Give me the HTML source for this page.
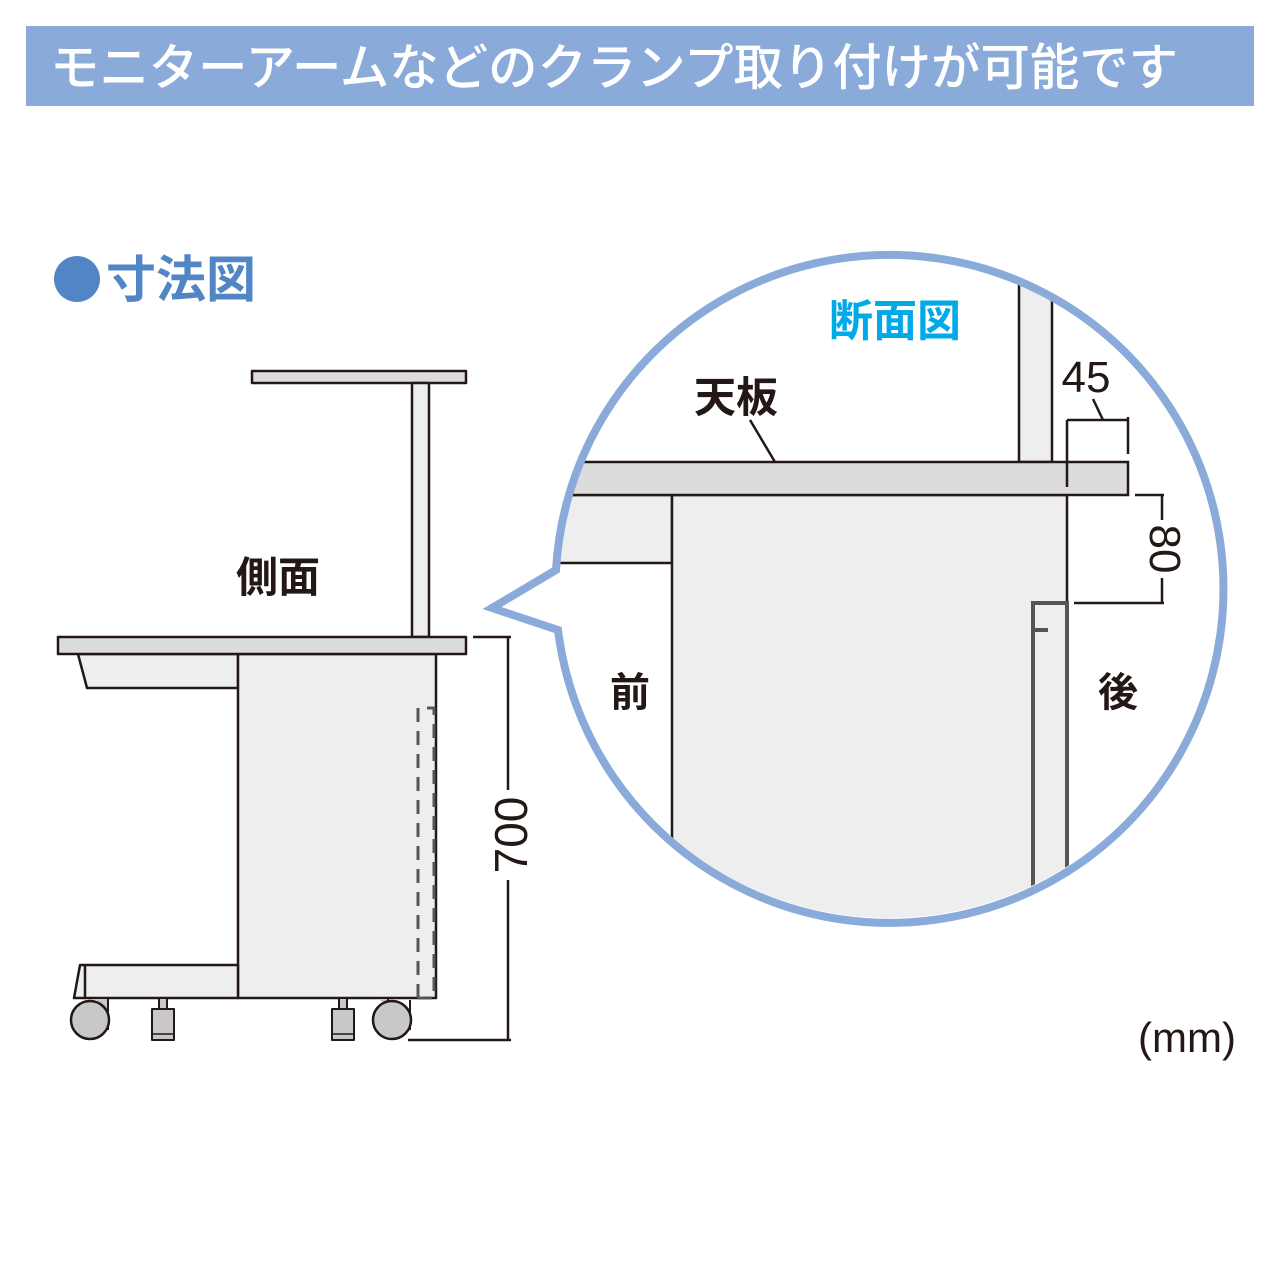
<!DOCTYPE html>
<html><head><meta charset="utf-8"><style>
html,body{margin:0;padding:0;background:#fff;}
svg{display:block;}
text{font-family:"Liberation Sans","Noto Sans CJK JP",sans-serif;}
</style></head><body>
<svg width="1280" height="1280" viewBox="0 0 1280 1280" xmlns="http://www.w3.org/2000/svg">
<rect x="26" y="26" width="1228" height="80" fill="#8aabda"/>
<text x="50" y="85" font-size="50" font-weight="500" fill="#fff" textLength="1128" lengthAdjust="spacingAndGlyphs">モニターアームなどのクランプ取り付けが可能です</text>
<circle cx="77" cy="279" r="23" fill="#5285c6"/>
<text x="106" y="297" font-size="50" font-weight="700" fill="#5285c6">寸法図</text>

<!-- side view -->
<g stroke="#231815" stroke-width="2.5" stroke-linejoin="round">
<rect x="252" y="371" width="214" height="12" fill="#dcdcdc"/>
<rect x="412" y="383" width="17" height="254" fill="#eeeeee"/>
<polygon points="78,654 87,688 238,688 238,654" fill="#eeeeee"/>
<rect x="238" y="654" width="198" height="344" fill="#eeeeee"/>
<polygon points="80,965 238,965 238,998 74,998" fill="#eeeeee"/>
<line x1="85" y1="965" x2="85" y2="998"/>
<rect x="58" y="637" width="408" height="17" fill="#dcdcdc"/>
<!-- casters -->
<path d="M96,998 L108,998 L108,1030" fill="#c8c8c8" stroke-width="2"/>
<circle cx="90" cy="1020" r="19" fill="#c8c8c8"/>
<path d="M376,998 L388,998 L388,1005" fill="#c8c8c8" stroke-width="2"/>
<path d="M410,1000 L410,1030" fill="none" stroke-width="2"/>
<circle cx="392" cy="1020" r="19" fill="#c8c8c8"/>
<rect x="159" y="998" width="8" height="11" fill="#c8c8c8" stroke-width="2"/>
<rect x="152" y="1009" width="22" height="31" fill="#c8c8c8" stroke-width="2"/>
<line x1="153" y1="1034" x2="173" y2="1034" stroke-width="1.5"/>
<rect x="339" y="998" width="8" height="11" fill="#c8c8c8" stroke-width="2"/>
<rect x="332" y="1009" width="22" height="31" fill="#c8c8c8" stroke-width="2"/>
<line x1="333" y1="1034" x2="353" y2="1034" stroke-width="1.5"/>
</g>
<g stroke="#555" stroke-width="3" stroke-dasharray="14,9" fill="none">
<polyline points="418,998 418,708 434,708 434,998 418,998"/>
</g>
<text x="278" y="592" font-size="42" font-weight="700" fill="#231815" text-anchor="middle">側面</text>
<g stroke="#231815" stroke-width="2.5">
<line x1="473" y1="637" x2="511" y2="637"/>
<line x1="508" y1="637" x2="508" y2="790"/>
<line x1="508" y1="880" x2="508" y2="1040"/>
<line x1="408" y1="1040" x2="511" y2="1040"/>
</g>
<text transform="translate(527,835) rotate(-90)" font-size="46" fill="#231815" text-anchor="middle">700</text>

<!-- circle detail -->
<defs><clipPath id="c"><circle cx="889" cy="585" r="333"/></clipPath></defs>
<g clip-path="url(#c)" stroke="#231815" stroke-width="2.5">
<rect x="1019" y="240" width="33" height="222" fill="#eeeeee"/>
<rect x="540" y="495" width="132" height="68" fill="#eeeeee"/>
<rect x="672" y="495" width="395" height="440" fill="#eeeeee"/>
<rect x="540" y="462" width="588" height="33" fill="#dcdcdc"/>
<g stroke="#555" stroke-width="4" fill="none">
<polyline points="1033,940 1033,603 1067,603 1067,940"/>
<line x1="1033" y1="630" x2="1048" y2="630"/>
</g>
</g>
<g stroke="#231815" stroke-width="2.5">
<line x1="1067" y1="420" x2="1067" y2="487"/>
<line x1="1128" y1="417" x2="1128" y2="454"/>
<line x1="1067" y1="420" x2="1128" y2="420"/>
<line x1="1093" y1="399" x2="1103" y2="420"/>
<line x1="1135" y1="495" x2="1164" y2="495"/>
<line x1="1162" y1="495" x2="1162" y2="520"/>
<line x1="1162" y1="578" x2="1162" y2="603"/>
<line x1="1074" y1="603" x2="1164" y2="603"/>
<line x1="750" y1="420" x2="775" y2="462"/>
</g>
<text x="1086" y="392" font-size="44" fill="#231815" text-anchor="middle">45</text>
<text transform="translate(1150,549) rotate(90)" font-size="44" fill="#231815" text-anchor="middle">80</text>
<text x="736" y="412" font-size="42" font-weight="700" fill="#231815" text-anchor="middle">天板</text>
<text x="895" y="336" font-size="44" font-weight="700" fill="#00a9e8" text-anchor="middle">断面図</text>
<text x="630" y="706" font-size="40" font-weight="700" fill="#231815" text-anchor="middle">前</text>
<text x="1118" y="706" font-size="40" font-weight="700" fill="#231815" text-anchor="middle">後</text>
<path d="M556,570 A334,334 0 1,1 558,630 L492,608 Z" fill="none" stroke="#8aabda" stroke-width="8" stroke-linejoin="miter"/>
<text x="1236" y="1052" font-size="42" fill="#231815" text-anchor="end">(mm)</text>
</svg>
</body></html>
